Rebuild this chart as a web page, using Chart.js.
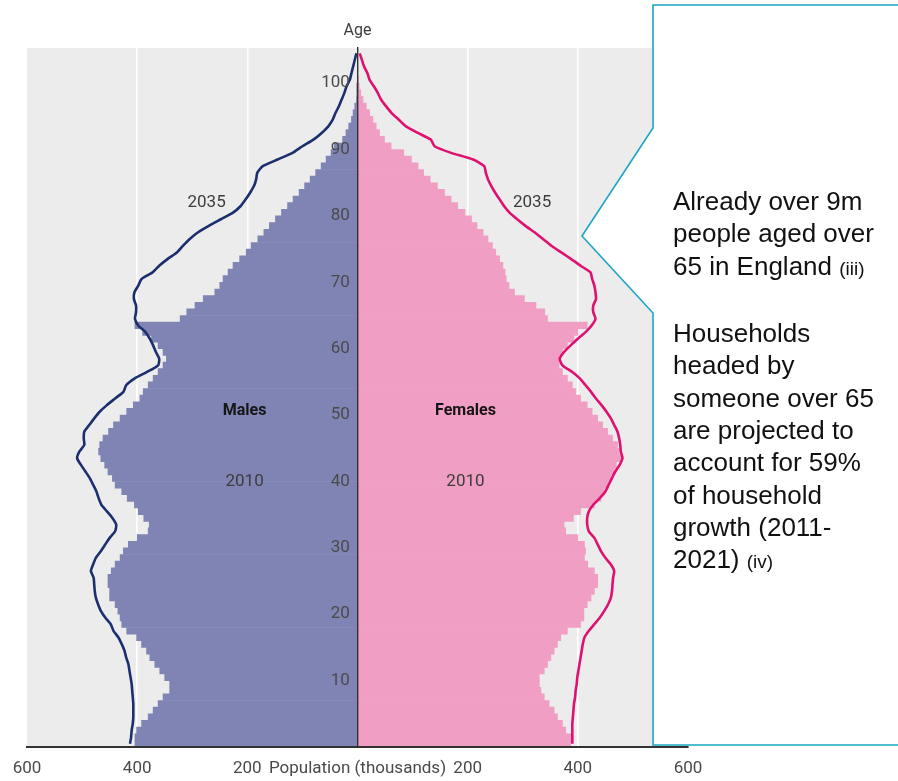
<!DOCTYPE html>
<html>
<head>
<meta charset="utf-8">
<title>Population pyramid 2010 / 2035</title>
<script src="https://cdn.jsdelivr.net/npm/chart.js@4.4.1/dist/chart.umd.min.js"></script>
<style>
  html, body { margin: 0; padding: 0; background: #fff; }
  #wrap { position: relative; width: 898px; height: 781px; overflow: hidden; }
  #chartBox { position: absolute; left: 0; top: 0; width: 898px; height: 781px; }
  #callout { position: absolute; left: 0; top: 0; }
  #note { position: absolute; left: 673px; top: 185px; font-family: 'Liberation Sans', Arial, sans-serif;
          font-size: 26px; line-height: 32.3px; color: #111; white-space: nowrap; }
  #note small { font-size: 19px; }
</style>
</head>
<body>
<div id="wrap">
  <div id="chartBox"><canvas id="pyramid"></canvas></div>
  <svg id="callout" width="898" height="781">
    <polygon points="653,5 905,5 905,745 653,745 653,313 582,236 653,128"
             fill="#fff" stroke="#1ea5c3" stroke-width="1.6"/>
  </svg>
  <div id="note">Already over 9m<br>people aged over<br>65 in England <small>(iii)</small><br><br>Households<br>headed by<br>someone over 65<br>are projected to<br>account for 59%<br>of household<br>growth (2011-<br>2021) <small>(iv)</small></div>
</div>

<script>
// single years of age, 0 .. 104
const ages = Array.from({length: 105}, (v, i) => i);

// population in thousands, 2010 (bars)
const males2010 = [
  404, 404, 401, 392, 380, 371, 362, 353, 341, 341,
  350, 359, 368, 377, 383, 392, 401, 419, 428, 431,
  435, 440, 450, 450, 453, 453, 447, 440, 431, 425,
  416, 400, 380, 378, 388, 398, 405, 418, 428, 440,
  445, 453, 459, 466, 470, 468, 462, 452, 443, 431,
  419, 407, 395, 389, 380, 371, 362, 353, 347, 353,
  362, 374, 390, 404, 322, 310, 295, 280, 259, 250,
  244, 235, 226, 214, 202, 193, 181, 170, 160, 149,
  138, 127, 117, 106, 96, 86, 76, 66, 57, 48,
  42, 27, 21, 16, 11, 8, 5, 2, 1, 0.5,
  0, 0, 0, 0, 0
];
const females2010 = [
  387, 387, 378, 372, 363, 357, 348, 339, 333, 330,
  330, 339, 345, 351, 357, 363, 369, 381, 405, 411,
  411, 417, 424, 430, 436, 436, 430, 418, 412, 414,
  412, 400, 378, 375, 392, 405, 430, 442, 448, 455,
  460, 466, 470, 478, 475, 472, 463, 454, 445, 436,
  426, 417, 405, 396, 390, 381, 372, 366, 366, 372,
  381, 393, 400, 417, 345, 340, 324, 303, 285, 275,
  270, 268, 264, 258, 251, 245, 237, 228, 217, 207,
  195, 182, 170, 158, 145, 132, 120, 110, 98, 84,
  61, 49, 40, 34, 28, 22, 16, 10, 6, 3,
  1, 0, 0, 0, 0
];

// projected population in thousands, 2035 (lines)
const males2035 = [
  413, 411, 410, 408, 407, 407, 407, 408, 409, 410,
  412, 414, 416, 420, 423, 428, 434, 443, 448, 458,
  466, 471, 475, 477, 478, 479, 484, 480, 475, 466,
  458, 450, 440, 438, 445, 455, 465, 470, 474, 480,
  486, 494, 502, 509, 505, 496, 497, 496, 487, 478,
  468, 455, 440, 425, 420, 405, 382, 362, 360, 366,
  371, 377, 385, 398, 404, 402, 402, 406, 405, 398,
  392, 372, 360, 345, 328, 317, 305, 290, 270, 248,
  226, 212, 203, 195, 188, 184, 182, 172, 145, 118,
  100, 80, 65, 53, 45, 40, 34, 29, 24, 20,
  14, 11, 8, 5, 2
];
const females2035 = [
  390, 390, 390, 390, 391, 392, 393, 395, 396, 398,
  399, 401, 403, 405, 407, 409, 412, 420, 430, 440,
  448, 455, 460, 462, 463, 464, 466, 460, 450, 442,
  436, 430, 420, 417, 417, 420, 428, 440, 450, 456,
  462, 468, 476, 481, 478, 477, 475, 472, 466, 460,
  452, 443, 433, 424, 414, 404, 390, 372, 367, 375,
  387, 400, 414, 425, 432, 428, 428, 433, 432, 430,
  426, 423, 405, 388, 370, 352, 337, 322, 305, 290,
  276, 266, 258, 250, 243, 237, 233, 230, 210, 170,
  140, 133, 110, 88, 75, 62, 52, 43, 37, 30,
  22, 18, 12, 8, 4
];

const xTicks = [-600, -400, -200, 0, 200, 400, 600];
const xAxisTitle = 'Population (thousands)';

const fontFamily = "Roboto, 'Liberation Sans', sans-serif";
Chart.defaults.font.family = fontFamily;

// text placed in the plot, in axis units
const annotations = [
  {text: '2035', x: -274, y: 82, bold: false},
  {text: '2035', x: 317, y: 82, bold: false},
  {text: 'Males', x: -205, y: 50.6, bold: true},
  {text: 'Females', x: 196, y: 50.6, bold: true},
  {text: '2010', x: -205, y: 40, bold: false},
  {text: '2010', x: 196, y: 40, bold: false}
];

// age bands are drawn at their mid point
const mid = a => a + 0.5;

const pyramidExtras = {
  id: 'pyramidExtras',
  beforeDraw(chart) {
    const {ctx, chartArea} = chart;
    ctx.save();
    ctx.fillStyle = '#ececed';
    ctx.fillRect(chartArea.left, chartArea.top, chartArea.right - chartArea.left, chartArea.bottom - chartArea.top);
    ctx.restore();
  },
  afterDatasetsDraw(chart) {
    const {ctx, scales, chartArea} = chart;
    ctx.save();
    ctx.textAlign = 'center';
    ctx.textBaseline = 'middle';
    annotations.forEach(a => {
      ctx.font = (a.bold ? 'bold 16px ' : '17px ') + fontFamily;
      ctx.fillStyle = a.bold ? '#151515' : '#3c3c3c';
      ctx.fillText(a.text, scales.x.getPixelForValue(a.x), scales.y.getPixelForValue(a.y));
    });
    ctx.font = '16px ' + fontFamily;
    ctx.fillStyle = '#3c3c3c';
    ctx.fillText('Age', scales.x.getPixelForValue(0), chartArea.top - 17);
    ctx.restore();
  }
};

const ctx = document.getElementById('pyramid').getContext('2d');
const pyramid = new Chart(ctx, {
  type: 'bar',
  data: {
    datasets: [
      {
        type: 'line',
        label: 'Males 2035',
        data: ages.map((a, i) => ({x: -males2035[i], y: mid(a)})),
        borderColor: '#1b2f6e',
        borderWidth: 2.6,
        pointRadius: 0,
        tension: 0.2,
        fill: false,
        order: 0
      },
      {
        type: 'line',
        label: 'Females 2035',
        data: ages.map((a, i) => ({x: females2035[i], y: mid(a)})),
        borderColor: '#de1170',
        borderWidth: 2.6,
        pointRadius: 0,
        tension: 0.2,
        fill: false,
        order: 0
      },
      {
        label: 'Males 2010',
        data: ages.map((a, i) => ({x: -males2010[i], y: mid(a)})),
        backgroundColor: '#8084b4',
        barPercentage: 1,
        categoryPercentage: 1,
        grouped: false,
        order: 1
      },
      {
        label: 'Females 2010',
        data: ages.map((a, i) => ({x: females2010[i], y: mid(a)})),
        backgroundColor: '#f09ec3',
        barPercentage: 1,
        categoryPercentage: 1,
        grouped: false,
        order: 1
      }
    ]
  },
  options: {
    indexAxis: 'y',
    responsive: true,
    maintainAspectRatio: false,
    animation: false,
    layout: {
      padding: {left: 27, right: 210, top: 48, bottom: 0}
    },
    plugins: {
      legend: {display: false},
      tooltip: {enabled: false}
    },
    scales: {
      x: {
        type: 'linear',
        min: -600,
        max: 600,
        afterBuildTicks: axis => { axis.ticks = xTicks.map(v => ({value: v})); },
        afterFit: axis => { axis.height = 34; },
        grid: {
          drawTicks: false,
          color: c => (Math.abs(c.tick.value) === 200 || Math.abs(c.tick.value) === 400) ? '#ffffff' : 'rgba(0,0,0,0)',
          lineWidth: 1.6
        },
        border: {display: true, color: '#333333', width: 2, z: 1},
        ticks: {
          padding: 12,
          color: '#4a4a4a',
          font: {size: 17},
          maxRotation: 0,
          autoSkip: false,
          callback: v => v === 0 ? xAxisTitle : Math.abs(v)
        }
      },
      // age labels, set a little to the left of the centre line
      y: {
        type: 'linear',
        position: {x: -14},
        min: 0,
        max: 105.3,
        offset: false,
        grid: {display: false, offset: false, drawTicks: false},
        border: {display: false},
        ticks: {
          stepSize: 10,
          z: 1,
          color: '#4a4a4a',
          font: {size: 17},
          callback: v => (v > 0 && v % 10 === 0) ? v : ''
        }
      },
      // the centre line between males and females
      yCentre: {
        type: 'linear',
        axis: 'y',
        position: {x: 0},
        min: 0,
        max: 105.3,
        grid: {display: false, drawTicks: false},
        border: {display: true, color: '#3a3030', width: 1.4, z: 1},
        ticks: {display: false}
      }
    }
  },
  plugins: [pyramidExtras]
});
</script>
</body>
</html>
